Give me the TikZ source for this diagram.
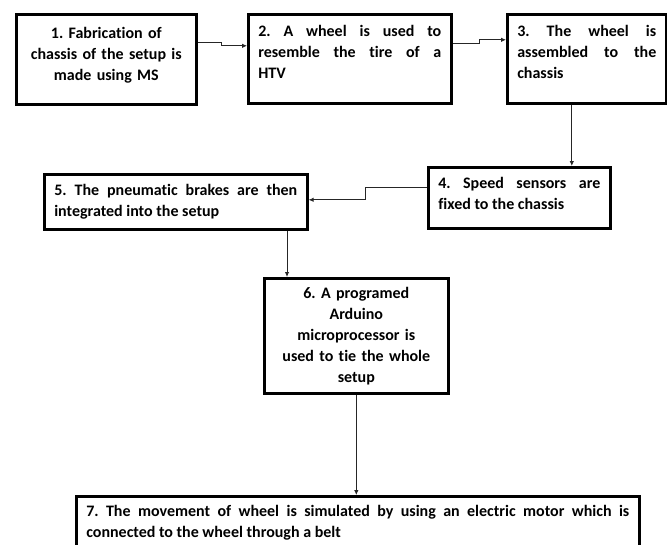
\documentclass[tikz,border=0pt]{standalone}
\usepackage{fontspec}
\setmainfont{Carlito}[Ligatures=NoCommon]
\frenchspacing
\usetikzlibrary{arrows.meta,calc}

\begin{document}
\begin{tikzpicture}[x=1pt,y=-1pt,
    stage/.style={draw, line width=2.6pt, anchor=north west, inner xsep=10pt, inner ysep=3pt,
        font=\fontsize{16}{21}\selectfont\bfseries},
    flow/.style={draw=black!85, line width=0.9pt, -{Latex[length=5pt,width=4.5pt]}}]

\clip (0,0) rectangle (667,544);

% first row
\node[stage, text width=160pt, minimum height=90pt, align=center] (s1) at (15,13)
    {1. Fabrication of\\ chassis of the setup is\\ made using MS\\[-11pt]\mbox{}};
\node[stage, text width=183pt, minimum height=89pt, align=justify] (s2) at (247,13)
    {2.\ A wheel is used to\linebreak resemble the tire of a\linebreak HTV\\[-7pt]\mbox{}};
\node[stage, text width=139pt, minimum height=89pt, align=justify] (s3) at (506,13)
    {3.\ The wheel is\linebreak assembled to the\linebreak chassis\\[-7pt]\mbox{}};

% second row
\node[stage, text width=162pt, minimum height=61pt, align=justify] (s4) at (427,166)
    {4.\ Speed sensors are\linebreak fixed to the chassis\\[-13pt]\mbox{}};
\node[stage, text width=243pt, minimum height=55pt, align=justify] (s5) at (43,173)
    {5. The pneumatic brakes are then\linebreak integrated into the setup};

% lower boxes
\node[stage, text width=164pt, minimum height=115pt, align=center] (s6) at (263,277)
    {6. A programed\\ Arduino\\ microprocessor is\\ used to tie the whole\\ setup};
\node[stage, text width=543pt, minimum height=52pt, align=justify] (s7) at (75,495)
    {7. The movement of wheel is simulated by using an electric motor which is\linebreak connected to the wheel through a belt};

% connectors
\draw[flow] ([yshift=17pt]s1.east) -- ++(24,0) |- ([yshift=13pt]s2.west);
\draw[flow] ([yshift=15pt]s2.east) -- ++(27,0) |- ([yshift=19pt]s3.west);
\draw[flow] ([xshift=-15pt]s3.south) -- ([xshift=-15pt]s3.south |- s4.north);
\draw[flow] ([yshift=10pt]s4.west) -- ++(-62,0) |- ([yshift=2pt]s5.east);
\draw[flow] ([xshift=24pt]s6.north west |- s5.south) -- ([xshift=24pt]s6.north west);
\draw[flow] (s6.south) -- (s6.south |- s7.north);

\end{tikzpicture}
\end{document}
